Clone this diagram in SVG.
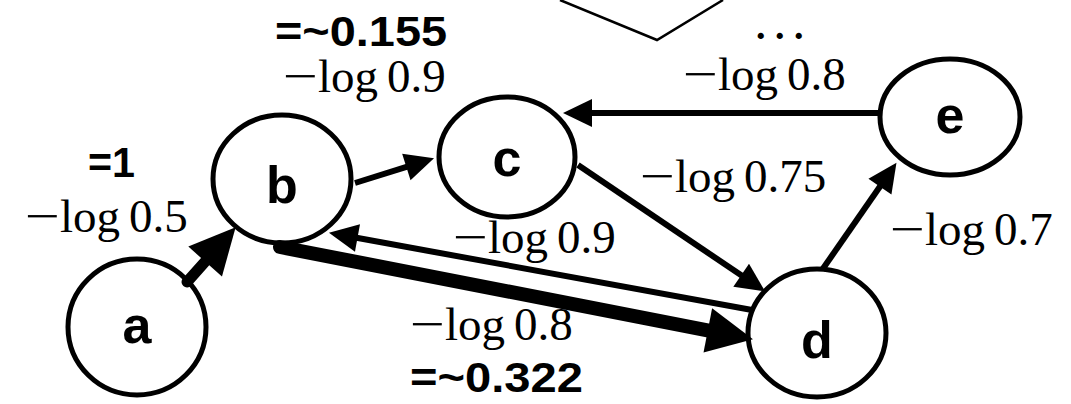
<svg xmlns="http://www.w3.org/2000/svg" width="1071" height="404" viewBox="0 0 1071 404">
<style>
.node ellipse{fill:#fff;stroke:#000;stroke-width:5}
.node text{font-family:"Liberation Sans",Arial,sans-serif;font-weight:bold;font-size:52px;text-anchor:middle;fill:#000}
.math{font-family:"Liberation Serif","Times New Roman",serif;font-size:47px;fill:#000}
.val{font-family:"Liberation Sans",Arial,sans-serif;font-weight:bold;font-size:43px;fill:#000}
.thin{stroke:#000;stroke-width:6;fill:none;marker-end:url(#ah)}
.thick{stroke:#000;fill:none;stroke-linecap:round;marker-end:url(#ahb)}
</style>
<defs>
<marker id="ah" markerUnits="userSpaceOnUse" viewBox="0 -15 30 30" markerWidth="30" markerHeight="30" refX="1" refY="0" orient="auto" overflow="visible">
<path d="M0,-14 L29,0 L0,14 Z" fill="#000"/>
</marker>
<marker id="ahb" markerUnits="userSpaceOnUse" viewBox="0 -23 46 46" markerWidth="46" markerHeight="46" refX="1" refY="0" orient="auto" overflow="visible">
<path d="M0,-22.5 L46,0 L0,22.5 Z" fill="#000"/>
</marker>
</defs>
<rect width="1071" height="404" fill="#fff"/>
<polyline points="560,0 657,40 723,0" fill="none" stroke="#000" stroke-width="2.5"/>
<g id="node-a" class="node"><ellipse cx="137" cy="327" rx="69" ry="68"/><text x="137" y="343">a</text></g>
<g id="node-b" class="node"><ellipse cx="282" cy="179" rx="69" ry="64"/><text x="282" y="203">b</text></g>
<g id="node-c" class="node"><ellipse cx="507" cy="157" rx="68" ry="60"/><text x="507" y="176">c</text></g>
<g id="node-d" class="node"><ellipse cx="817" cy="333" rx="69" ry="64"/><text x="817" y="358">d</text></g>
<g id="node-e" class="node"><ellipse cx="950" cy="117" rx="70" ry="58"/><text x="950" y="133">e</text></g>
<g id="connectors">
<line class="thick" x1="187" y1="282" x2="205.8" y2="260.8" stroke-width="11"/>
<line class="thick" x1="280" y1="247" x2="708.8" y2="330.6" stroke-width="14"/>
<line class="thin" x1="752" y1="310" x2="356.5" y2="237.8"/>
<line class="thin" x1="355" y1="183" x2="407.3" y2="166.7"/>
<line class="thin" x1="578" y1="165" x2="742" y2="275.8"/>
<line class="thin" x1="822" y1="270" x2="880.5" y2="185.8"/>
<line class="thin" x1="879" y1="113" x2="591" y2="113"/>
</g>
<g id="labels">
<text class="val" x="275" y="46" textLength="172" lengthAdjust="spacingAndGlyphs">=~0.155</text>
<text class="math" y="92"><tspan x="283" textLength="35" lengthAdjust="spacingAndGlyphs">−</tspan><tspan x="318">log</tspan><tspan x="387">0.9</tspan></text>
<text x="756" y="39" font-family="'Liberation Serif',serif" font-weight="bold" font-size="38" letter-spacing="9.5">...</text>
<text class="math" y="90"><tspan x="683" textLength="35" lengthAdjust="spacingAndGlyphs">−</tspan><tspan x="718">log</tspan><tspan x="787">0.8</tspan></text>
<text class="val" x="88" y="177" textLength="47" lengthAdjust="spacingAndGlyphs">=1</text>
<text class="math" y="232"><tspan x="25" textLength="35" lengthAdjust="spacingAndGlyphs">−</tspan><tspan x="60">log</tspan><tspan x="129">0.5</tspan></text>
<text class="math" y="192"><tspan x="640" textLength="35" lengthAdjust="spacingAndGlyphs">−</tspan><tspan x="675">log</tspan><tspan x="744">0.75</tspan></text>
<text class="math" y="253"><tspan x="453" textLength="35" lengthAdjust="spacingAndGlyphs">−</tspan><tspan x="488">log</tspan><tspan x="557">0.9</tspan></text>
<text class="math" y="245"><tspan x="890" textLength="35" lengthAdjust="spacingAndGlyphs">−</tspan><tspan x="925">log</tspan><tspan x="994">0.7</tspan></text>
<text class="math" y="340"><tspan x="410" textLength="35" lengthAdjust="spacingAndGlyphs">−</tspan><tspan x="445">log</tspan><tspan x="514">0.8</tspan></text>
<text class="val" x="410" y="392" textLength="173" lengthAdjust="spacingAndGlyphs">=~0.322</text>
</g>
</svg>
